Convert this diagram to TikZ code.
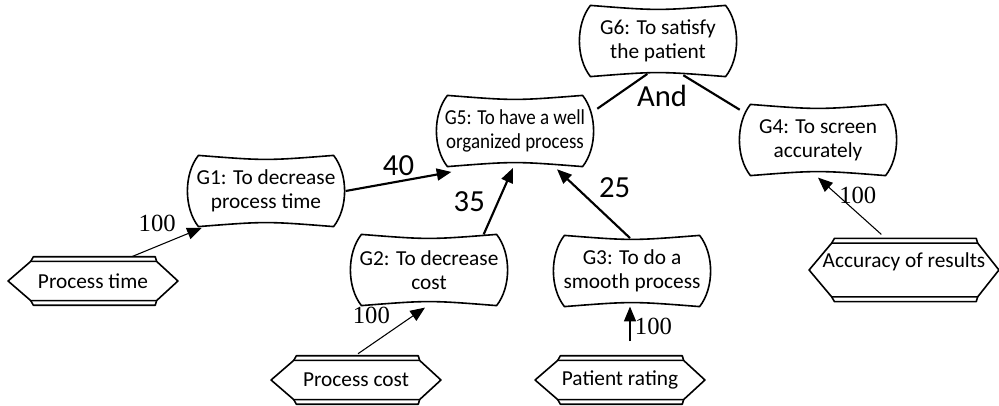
\documentclass[tikz,border=0pt]{standalone}
\usepackage{fontspec}
\setmainfont{Carlito}
\newfontfamily\narrowfont{Carlito}[FakeStretch=0.89]
\newfontfamily\timesfont{Liberation Serif}
\usetikzlibrary{arrows.meta, positioning}

\begin{document}
\begin{tikzpicture}[
  x=0.75pt, y=-0.75pt,
  goal/.style={minimum width=109pt, minimum height=53pt, inner sep=0pt, align=center, font={\fontsize{16}{18}\selectfont}},
  indic/.style={minimum width=127pt, minimum height=36pt, inner sep=0pt, font={\fontsize{16}{18}\selectfont}},
  outline/.style={line width=1.2pt, line join=round},
  link/.style={line width=1.6pt},
  arrow/.style={link, -{Triangle[length=11pt, width=9pt]}},
  thin arrow/.style={line width=0.8pt, -{Triangle[length=11pt, width=9pt]}},
  wt/.style={font={\timesfont\fontsize{18.5}{20}\selectfont}},
  pct/.style={font={\fontsize{23}{26}\selectfont}},
]
\useasboundingbox (0,0) rectangle (999,406);

% ゴール
\node[goal] (g6) at (658,41) {G6: To satisfy\\the patient};
\node[goal, font={\narrowfont\fontsize{16}{18}\selectfont}] (g5) at (515,131) {G5: To have a well\\organized process};
\node[goal] (g4) at (818,140) {G4: To screen\\accurately};
\node[goal] (g1) at (266,191) {G1: To decrease\\process time};
\node[goal] (g2) at (429,270) {G2: To decrease\\cost};
\node[goal] (g3) at (632,271) {G3: To do a\\smooth process};

\foreach \g in {g1,g2,g3,g4,g5,g6} {
  \draw[outline] ([xshift=4pt]\g.north west)
    .. controls ([yshift=-4pt]\g.north) .. ([xshift=-4pt]\g.north east)
    .. controls ([xshift=7pt,yshift=-14pt]\g.north east) and ([xshift=7pt,yshift=14pt]\g.south east) .. ([xshift=-4pt]\g.south east)
    .. controls ([yshift=4pt]\g.south) .. ([xshift=4pt]\g.south west)
    .. controls ([xshift=-7pt,yshift=14pt]\g.south west) and ([xshift=-7pt,yshift=-14pt]\g.north west) .. cycle;
}

% 指標
\node[indic] (pt) at (93,281) {Process time};
\node[indic] (pc) at (356,380) {Process cost};
\node[indic] (pr) at (620,380) {Patient rating};
\node[indic, minimum width=142pt, minimum height=47pt, text depth=15pt] (acc) at (904,270) {Accuracy of results};

\foreach \i in {pt,pc,pr,acc} {
  \draw[outline] (\i.west) -- ([xshift=17pt,yshift=-3.5pt]\i.north west) -- ([xshift=-16pt,yshift=-3.5pt]\i.north east)
    -- (\i.east) -- ([xshift=-16pt,yshift=3.5pt]\i.south east) -- ([xshift=17pt,yshift=3.5pt]\i.south west) -- cycle;
  \draw[outline] ([xshift=17pt,yshift=-3.5pt]\i.north west) -- ([xshift=19pt]\i.north west) -- ([xshift=-17pt]\i.north east) -- ([xshift=-16pt,yshift=-3.5pt]\i.north east);
  \draw[outline] ([xshift=17pt,yshift=3.5pt]\i.south west) -- ([xshift=19pt]\i.south west) -- ([xshift=-17pt]\i.south east) -- ([xshift=-16pt,yshift=3.5pt]\i.south east);
}

% AND分解
\draw[link] ([xshift=-8pt,yshift=2pt]g6.south) -- ([xshift=7pt,yshift=-10pt]g5.north east);
\draw[link] ([xshift=19pt,yshift=1pt]g6.south) -- ([xshift=-4pt,yshift=-4pt]g4.north west);
\node[pct] (andlbl) at (662,96) {And};

% 寄与
\draw[arrow] ([xshift=5pt]g1.east) -- ([xshift=7pt,yshift=-4pt]g5.south west) node[pct, midway, above] {40};
\draw[arrow] ([xshift=41pt]g2.north) -- ([xshift=-1.5pt,yshift=-1pt]g5.south) node[pct, midway, left=6pt] {35};
\draw[arrow] ([xshift=-1.5pt,yshift=-2pt]g3.north) -- ([xshift=31.5pt,yshift=-2pt]g5.south) node[pct, midway, above right] {25};

% 指標からの矢印
\coordinate (prtop) at ([xshift=7.5pt,yshift=11pt]pr.north);
\draw[thin arrow] ([xshift=29pt]pt.north) -- ([xshift=6.5pt,yshift=-1pt]g1.south west) node[wt, pos=0.7, above left] {100};
\draw[thin arrow] ([xshift=1.5pt,yshift=1.5pt]pc.north) -- ([xshift=-3pt,yshift=-1.5pt]g2.south) node[wt, pos=0.55, above left] {100};
\draw[thin arrow] (prtop) -- (prtop |- g3.south) node[wt, pos=0.43, right] {100};
\draw[thin arrow] ([xshift=-17pt,yshift=3pt]acc.north) -- ([yshift=-1.5pt]g4.south) node[wt, pos=0.68, right, xshift=-3pt] {100};

\end{tikzpicture}
\end{document}
